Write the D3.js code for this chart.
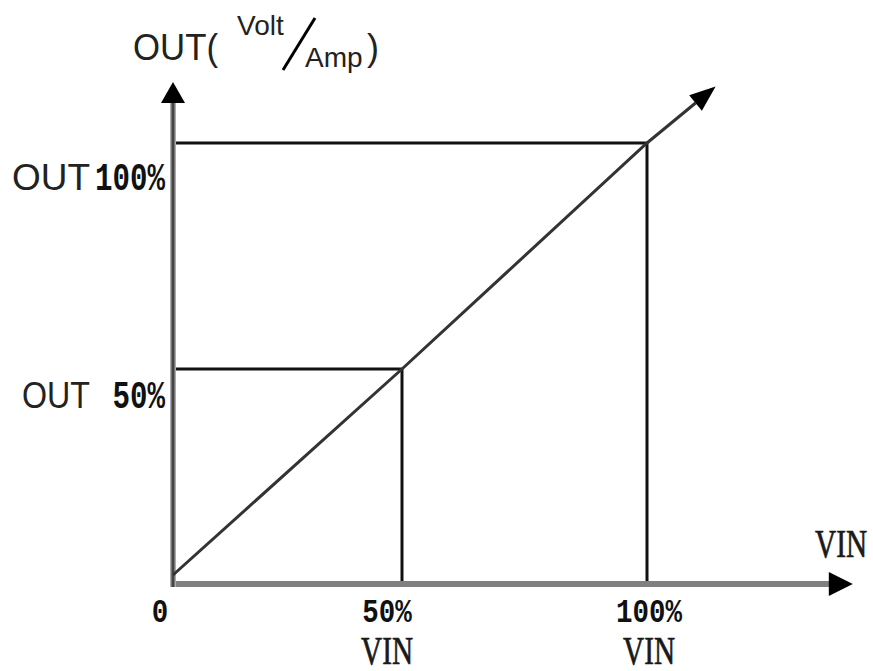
<!DOCTYPE html>
<html>
<head>
<meta charset="utf-8">
<script src="https://cdn.jsdelivr.net/npm/d3@7"></script>
<style>
  body { margin: 0; background: #fff; }
  .sans { font-family: "Liberation Sans", Arial, sans-serif; fill: #222; }
  .mono { font-family: "Liberation Mono", "Courier New", monospace; fill: #111; font-weight: bold; }
  .unit { font-family: "Liberation Serif", "Times New Roman", serif; fill: #1a1a1a; stroke: #1a1a1a; stroke-width: 0.7; }
</style>
</head>
<body>
<script>

// values (percent of full scale)
const vinTicks = [0, 50, 100];
const vinTickLabels = ["0", "50%", "100%"];
const vinUnitLabels = ["", "VIN", "VIN"];
const outTicks = [50, 100];
const outTickLabels = ["50%", "100%"];
const lineVin = [0, 50, 100, 114];
const lineOut = [0, 50, 100, 112.5];
const vinAxisEnd = 142;
const outAxisEnd = 113.5;

const width = 873;
const height = 671;

const svg = d3.select("body").append("svg")
	.attr("width", width)
	.attr("height", height);

// the drawing is not perfectly linear, so map through the three marked points
const x = d3.scaleLinear().domain([0, 50, 100]).range([173, 402, 647]);
const y = d3.scaleLinear().domain([0, 50, 100]).range([575, 369, 143]);
const axisY = y(0) + 9;

// guide lines to the 50% / 100% points
outTicks.forEach((v) => {
	svg.append("line")
		.attr("x1", x(0) + 2).attr("x2", x(v))
		.attr("y1", y(v)).attr("y2", y(v))
		.attr("stroke", "#111").attr("stroke-width", 3);
	svg.append("line")
		.attr("x1", x(v)).attr("x2", x(v))
		.attr("y1", y(v)).attr("y2", axisY + 3)
		.attr("stroke", "#111").attr("stroke-width", 3);
});

// x axis
svg.append("line")
	.attr("x1", x(0) - 3).attr("x2", x(vinAxisEnd) - 22)
	.attr("y1", axisY).attr("y2", axisY)
	.attr("stroke", "#808080").attr("stroke-width", 6);
svg.append("path")
	.attr("d", `M${x(vinAxisEnd)},${axisY} L${x(vinAxisEnd) - 24},${axisY - 12} L${x(vinAxisEnd) - 24},${axisY + 12} Z`)
	.attr("fill", "#000");

// y axis
svg.append("line")
	.attr("x1", x(0)).attr("x2", x(0))
	.attr("y1", axisY + 3).attr("y2", y(outAxisEnd) + 20)
	.attr("stroke", "#aaa").attr("stroke-width", 6);
svg.append("line")
	.attr("x1", x(0)).attr("x2", x(0))
	.attr("y1", axisY + 3).attr("y2", y(outAxisEnd) + 20)
	.attr("stroke", "#444").attr("stroke-width", 3);
svg.append("path")
	.attr("d", `M${x(0)},${y(outAxisEnd)} L${x(0) - 12},${y(outAxisEnd) + 21} L${x(0) + 12},${y(outAxisEnd) + 21} Z`)
	.attr("fill", "#000");

// transfer line with arrow
const pts = lineVin.map((v, i) => [x(v), y(lineOut[i])]);
const tip = pts[pts.length - 1];
const prev = pts[pts.length - 2];
const ang = Math.atan2(tip[1] - prev[1], tip[0] - prev[0]);
const headLen = 26, headW = 10;
const base = [tip[0] - headLen * Math.cos(ang), tip[1] - headLen * Math.sin(ang)];
pts[pts.length - 1] = base;

svg.append("path")
	.attr("d", d3.line()(pts))
	.attr("fill", "none")
	.attr("stroke", "#333")
	.attr("stroke-width", 3);

svg.append("path")
	.attr("d", `M${tip[0]},${tip[1]}` +
		` L${base[0] + headW * Math.sin(ang)},${base[1] - headW * Math.cos(ang)}` +
		` L${base[0] - headW * Math.sin(ang)},${base[1] + headW * Math.cos(ang)} Z`)
	.attr("fill", "#000");

// y tick labels
const outWordWidth = [68, 78];
const outLabelDy = [39, 47];
outTicks.forEach((v, i) => {
	svg.append("text")
		.attr("class", "sans")
		.attr("x", 90 - outWordWidth[i]).attr("y", y(v) + outLabelDy[i])
		.attr("font-size", 36)
		.attr("textLength", outWordWidth[i])
		.attr("lengthAdjust", "spacingAndGlyphs")
		.text("OUT");
	svg.append("text")
		.attr("class", "mono")
		.attr("x", 165).attr("y", y(v) + outLabelDy[i])
		.attr("text-anchor", "end")
		.attr("font-size", 38)
		.attr("textLength", outTickLabels[i].length * 17.5)
		.attr("lengthAdjust", "spacingAndGlyphs")
		.text(outTickLabels[i]);
});

// x tick labels
const vinLabelDx = [-13, -15, 2];
vinTicks.forEach((v, i) => {
	svg.append("text")
		.attr("class", "mono")
		.attr("x", x(v) + vinLabelDx[i]).attr("y", 622)
		.attr("text-anchor", "middle")
		.attr("font-size", 33)
		.attr("textLength", vinTickLabels[i].length * 16.5)
		.attr("lengthAdjust", "spacingAndGlyphs")
		.text(vinTickLabels[i]);
	if (vinUnitLabels[i]) {
		svg.append("text")
			.attr("class", "unit")
			.attr("transform", `translate(${x(v) + vinLabelDx[i]},664) scale(0.75,1)`)
			.attr("text-anchor", "middle")
			.attr("font-size", 39)
			.text(vinUnitLabels[i]);
	}
});

// axis titles
svg.append("text")
	.attr("class", "unit")
	.attr("transform", "translate(841,557) scale(0.75,1)")
	.attr("text-anchor", "middle")
	.attr("font-size", 39)
	.text("VIN");

svg.append("text").attr("class", "sans")
	.attr("x", 133).attr("y", 60).attr("font-size", 36)
	.attr("textLength", 85).attr("lengthAdjust", "spacingAndGlyphs")
	.text("OUT(");
svg.append("text").attr("class", "sans")
	.attr("x", 237).attr("y", 35).attr("font-size", 28)
	.text("Volt");
svg.append("line")
	.attr("x1", 283).attr("y1", 70).attr("x2", 315).attr("y2", 18)
	.attr("stroke", "#000").attr("stroke-width", 3);
svg.append("text").attr("class", "sans")
	.attr("x", 305).attr("y", 67).attr("font-size", 28)
	.text("Amp");
svg.append("text").attr("class", "sans")
	.attr("x", 367).attr("y", 60).attr("font-size", 36)
	.text(")");

</script>
</body>
</html>
